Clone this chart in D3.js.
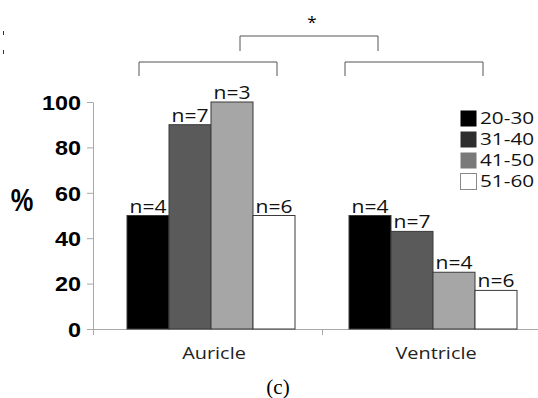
<!DOCTYPE html>
<html>
<head>
<meta charset="utf-8">
<script src="https://cdn.jsdelivr.net/npm/d3@7"></script>
<style>
  body { margin: 0; background: #fff; }
  svg { display: block; }
</style>
</head>
<body>
<div id="chart"></div>
<script>
// data
var categories = ["Auricle", "Ventricle"];
var ageGroups = ["20-30", "31-40", "41-50", "51-60"];
var auricleValues = [50, 90, 100, 50];
var ventricleValues = [50, 43, 25, 17];
var auricleN = ["n=4", "n=7", "n=3", "n=6"];
var ventricleN = ["n=4", "n=7", "n=4", "n=6"];
var yTicks = [0, 20, 40, 60, 80, 100];

var barColors = ["#000000", "#5a5a5a", "#a6a6a6", "#ffffff"];
var legendColors = ["#000000", "#2e2e2e", "#7a7a7a", "#ffffff"];

var svgWidth = 538, svgHeight = 398;
var SX = 1.17; // the figure's text is stretched sideways
var axisX = 93;

var svg = d3.select("#chart")
  .append("svg")
  .attr("width", svgWidth)
  .attr("height", svgHeight);

var data = categories.map(function(c, i) {
  var vals = i === 0 ? auricleValues : ventricleValues;
  var ns = i === 0 ? auricleN : ventricleN;
  return {
    cat: c,
    bars: ageGroups.map(function(g, j) { return { group: g, value: vals[j], n: ns[j], k: j }; })
  };
});

// scales
var x0 = d3.scaleBand().domain(categories).range([100, 544]);
var groupWidth = 168;
var x1 = d3.scaleBand().domain(ageGroups).range([0, groupWidth]);
var y = d3.scaleLinear().domain([0, 100]).range([329, 102]);

// y axis
var yAxis = svg.append("g")
  .attr("transform", "translate(" + axisX + ",0)")
  .call(d3.axisLeft(y).tickValues(yTicks).tickSize(6).tickPadding(4).tickSizeOuter(0));
yAxis.select(".domain").attr("stroke", "#a8a8a8");
yAxis.selectAll(".tick line").attr("stroke", "#a8a8a8");
yAxis.selectAll(".tick text")
  .attr("font-family", "Arial, 'Liberation Sans', sans-serif")
  .attr("font-weight", "bold")
  .attr("font-size", "20px")
  .attr("fill", "#000")
  .attr("x", null)
  .attr("dy", "0.36em")
  .attr("transform", "translate(-12,0) scale(" + SX + ",1)");

// x axis: labels from the band scale, baseline drawn from the y axis to the edge
var xAxis = svg.append("g")
  .attr("transform", "translate(0," + y(0) + ")")
  .call(d3.axisBottom(x0).tickSize(0).tickSizeOuter(0));
xAxis.select(".domain").remove();
xAxis.selectAll(".tick text")
  .attr("font-family", "'Open Sans', sans-serif")
  .attr("font-size", "17px")
  .attr("fill", "#222")
  .attr("y", null)
  .attr("dy", null)
  .attr("transform", "translate(3,30) scale(" + SX + ",1)");

svg.append("line")
  .attr("x1", axisX - 6)
  .attr("x2", svgWidth)
  .attr("y1", y(0) + 0.5)
  .attr("y2", y(0) + 0.5)
  .attr("stroke", "#a8a8a8");

// category boundary ticks under the x axis
var bounds = [axisX, x0(categories[1])];
svg.append("g").selectAll("line")
  .data(bounds)
  .enter()
  .append("line")
  .attr("x1", function(d) { return d + 0.5; })
  .attr("x2", function(d) { return d + 0.5; })
  .attr("y1", y(0))
  .attr("y2", y(0) + 6)
  .attr("stroke", "#a8a8a8");

// bars
var groups = svg.selectAll(".cat")
  .data(data)
  .enter()
  .append("g")
  .attr("class", "cat")
  .attr("transform", function(d) {
    return "translate(" + (x0(d.cat) + (x0.bandwidth() - groupWidth) / 2) + ",0)";
  });

groups.selectAll("rect")
  .data(function(d) { return d.bars; })
  .enter()
  .append("rect")
  .attr("x", function(d) { return x1(d.group); })
  .attr("y", function(d) { return y(d.value); })
  .attr("width", x1.bandwidth())
  .attr("height", function(d) { return y(0) - y(d.value); })
  .attr("fill", function(d) { return barColors[d.k]; })
  .attr("stroke", "#3a3a3a")
  .attr("stroke-width", 1);

groups.selectAll("text")
  .data(function(d) { return d.bars; })
  .enter()
  .append("text")
  .text(function(d) { return d.n; })
  .attr("transform", function(d) {
    return "translate(" + (x1(d.group) + x1.bandwidth() / 2) + "," + (y(d.value) - 3) + ") scale(" + SX + ",1)";
  })
  .attr("text-anchor", "middle")
  .attr("font-family", "'Open Sans', sans-serif")
  .attr("font-size", "18px")
  .attr("fill", "#111");

// % label
svg.append("text")
  .attr("transform", "translate(22,211) scale(0.82,1)")
  .attr("text-anchor", "middle")
  .attr("font-family", "Arial, 'Liberation Sans', sans-serif")
  .attr("font-weight", "bold")
  .attr("font-size", "31px")
  .text("%");

// legend
var legend = svg.append("g").attr("transform", "translate(460,110)");
var legendRow = legend.selectAll("g")
  .data(ageGroups)
  .enter()
  .append("g")
  .attr("transform", function(d, i) { return "translate(0," + (i * 21) + ")"; });

legendRow.append("rect")
  .attr("x", 0.5)
  .attr("y", 0.5)
  .attr("width", 16)
  .attr("height", 16)
  .attr("fill", function(d, i) { return legendColors[i]; })
  .attr("stroke", function(d, i) { return i === 3 ? "#888" : "none"; });

legendRow.append("text")
  .text(function(d) { return d; })
  .attr("transform", "translate(20,14) scale(1.22,1)")
  .attr("font-family", "'Open Sans', sans-serif")
  .attr("font-size", "17px")
  .attr("fill", "#111");

// significance brackets
var bracketHalf = 69;
var bracketShift = [-3, -19];
var centers = categories.map(function(c, i) { return x0(c) + x0.bandwidth() / 2 + bracketShift[i]; });
var bracket = d3.line();
var brackets = centers.map(function(cx) {
  return [[cx - bracketHalf, 76], [cx - bracketHalf, 62], [cx + bracketHalf, 62], [cx + bracketHalf, 76]];
});
var mid = x0(categories[1]) - 13;
brackets.push([[mid - bracketHalf, 51], [mid - bracketHalf, 36], [mid + bracketHalf, 36], [mid + bracketHalf, 51]]);

svg.append("g").selectAll("path")
  .data(brackets)
  .enter()
  .append("path")
  .attr("d", bracket)
  .attr("fill", "none")
  .attr("stroke", "#555")
  .attr("stroke-width", 1);

svg.append("text")
  .attr("x", mid + 3)
  .attr("y", 28)
  .attr("text-anchor", "middle")
  .attr("font-family", "'Open Sans', sans-serif")
  .attr("font-size", "17px")
  .text("*");

// stray marks at the left edge of the figure
svg.append("g").selectAll("line")
  .data([31, 50])
  .enter()
  .append("line")
  .attr("x1", 3.5).attr("x2", 3.5)
  .attr("y1", function(d) { return d; })
  .attr("y2", function(d) { return d + 4; })
  .attr("stroke", "#333");

// caption
svg.append("text")
  .attr("x", 278)
  .attr("y", 394)
  .attr("text-anchor", "middle")
  .attr("font-family", "'Liberation Serif', 'Times New Roman', serif")
  .attr("font-size", "21px")
  .text("(c)");
</script>
</body>
</html>
